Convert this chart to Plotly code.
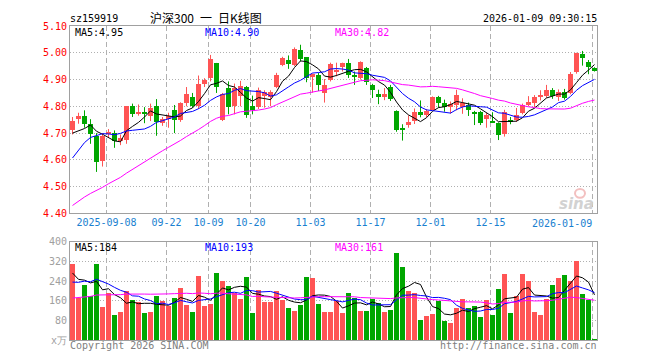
import pandas as pd
import plotly.graph_objects as go

# ---------------- data ----------------
open_ = [4.710, 4.753, 4.765, 4.735, 4.690, 4.595, 4.697, 4.700, 4.670, 4.675,
         4.800, 4.773, 4.780, 4.765, 4.800, 4.737, 4.753, 4.785, 4.750, 4.814,
         4.835, 4.803, 4.883, 4.905, 4.960, 4.750, 4.870, 4.800, 4.838, 4.872,
         4.800, 4.797, 4.838, 4.835, 4.872, 4.955, 4.973, 4.956, 5.012, 4.983,
         4.908, 4.917, 4.848, 4.897, 4.927, 4.946, 4.963, 4.915, 4.906, 4.942,
         4.881, 4.846, 4.833, 4.873, 4.782, 4.717, 4.731, 4.744, 4.778, 4.768,
         4.788, 4.834, 4.811, 4.800, 4.805, 4.797, 4.806, 4.780, 4.780, 4.753,
         4.745, 4.737, 4.695, 4.750, 4.750, 4.775, 4.808, 4.813, 4.836, 4.840,
         4.861, 4.833, 4.855, 4.850, 4.928, 4.997, 4.966, 4.942]
high = [4.760, 4.776, 4.785, 4.752, 4.700, 4.700, 4.715, 4.710, 4.695, 4.800,
        4.810, 4.807, 4.797, 4.810, 4.827, 4.760, 4.776, 4.805, 4.815, 4.872,
        4.850, 4.915, 4.905, 4.992, 4.962, 4.850, 4.893, 4.885, 4.895, 4.876,
        4.840, 4.870, 4.860, 4.860, 4.925, 4.985, 4.990, 5.020, 5.030, 4.983,
        4.922, 4.925, 4.902, 4.963, 4.963, 4.963, 4.977, 4.930, 4.968, 4.947,
        4.884, 4.862, 4.868, 4.880, 4.785, 4.733, 4.766, 4.792, 4.822, 4.790,
        4.837, 4.839, 4.825, 4.818, 4.862, 4.830, 4.814, 4.783, 4.783, 4.775,
        4.778, 4.740, 4.787, 4.760, 4.794, 4.810, 4.838, 4.842, 4.860, 4.880,
        4.868, 4.863, 4.865, 4.928, 5.000, 5.007, 4.973, 4.946]
low = [4.695, 4.735, 4.720, 4.660, 4.555, 4.575, 4.685, 4.645, 4.655, 4.660,
       4.760, 4.765, 4.737, 4.745, 4.690, 4.727, 4.720, 4.700, 4.742, 4.800,
       4.795, 4.790, 4.872, 4.893, 4.850, 4.745, 4.770, 4.770, 4.800, 4.757,
       4.770, 4.790, 4.795, 4.800, 4.868, 4.950, 4.940, 4.950, 4.968, 4.890,
       4.851, 4.857, 4.814, 4.893, 4.912, 4.930, 4.906, 4.880, 4.900, 4.880,
       4.831, 4.808, 4.823, 4.820, 4.705, 4.672, 4.720, 4.734, 4.759, 4.760,
       4.785, 4.795, 4.780, 4.773, 4.785, 4.772, 4.764, 4.730, 4.730, 4.720,
       4.738, 4.674, 4.687, 4.733, 4.742, 4.770, 4.800, 4.797, 4.822, 4.832,
       4.828, 4.820, 4.825, 4.845, 4.922, 4.952, 4.920, 4.930]
close = [4.745, 4.765, 4.735, 4.697, 4.592, 4.690, 4.705, 4.670, 4.680, 4.800,
         4.770, 4.780, 4.770, 4.795, 4.742, 4.752, 4.763, 4.750, 4.812, 4.845,
         4.800, 4.882, 4.898, 4.977, 4.872, 4.845, 4.797, 4.870, 4.876, 4.768,
         4.786, 4.862, 4.853, 4.855, 4.918, 4.980, 4.957, 5.015, 4.978, 4.905,
         4.920, 4.881, 4.881, 4.958, 4.936, 4.961, 4.918, 4.911, 4.964, 4.890,
         4.861, 4.836, 4.846, 4.826, 4.712, 4.713, 4.743, 4.779, 4.768, 4.784,
         4.833, 4.812, 4.796, 4.807, 4.843, 4.812, 4.786, 4.773, 4.739, 4.768,
         4.741, 4.692, 4.778, 4.743, 4.768, 4.805, 4.815, 4.833, 4.841, 4.862,
         4.840, 4.853, 4.832, 4.920, 4.998, 4.979, 4.948, 4.935]
volume = [309, 171, 224, 180, 312, 136, 193, 104, 116, 200,
          164, 156, 112, 116, 180, 160, 140, 173, 213, 144,
          116, 260, 140, 148, 273, 240, 220, 193, 169, 256,
          112, 203, 157, 157, 200, 164, 132, 120, 143, 256,
          252, 147, 116, 116, 160, 112, 192, 173, 120, 120,
          169, 153, 116, 124, 356, 300, 200, 192, 84, 100,
          105, 160, 80, 68, 132, 168, 132, 140, 96, 164,
          104, 208, 268, 112, 180, 268, 240, 116, 104, 169,
          224, 252, 264, 240, 324, 188, 164, 4]

# closes / volumes of the 29 sessions before the first visible bar,
# estimated from where the MA lines start on the left edge
prior_close = [4.27, 4.28, 4.30, 4.29, 4.31, 4.30, 4.32, 4.31, 4.33, 4.34,
               4.33, 4.35, 4.36, 4.35, 4.37, 4.38, 4.39, 4.40, 4.41, 4.43,
               4.47, 4.455, 4.505, 4.52, 4.62, 4.715, 4.70, 4.63, 4.71]
prior_volume = [120, 130, 125, 140, 135, 128, 118, 122, 130, 145,
                150, 138, 132, 140, 148, 155, 142, 150, 160, 162,
                180, 175, 205, 210, 225, 300, 240, 236, 280]

tick_index = [6, 16, 23, 30, 40, 50, 60, 70, 87]
tick_labels = ["2025-09-08", "09-22", "10-09", "10-20", "11-03",
               "11-17", "12-01", "12-15", "2026-01-09"]
price_ticks = [4.40, 4.50, 4.60, 4.70, 4.80, 4.90, 5.00, 5.10]
vol_ticks = [0, 80, 160, 240, 320, 400]
vol_tick_text = ["x万", "80", "160", "240", "320", "400"]

title_code = "sz159919"
title_text = "沪深300\u2002一\u2002日K线图"
stamp = "2026-01-09 09:30:15"
price_ma_labels = ["MA5:4.95", "MA10:4.90", "MA30:4.82"]
vol_ma_labels = ["MA5:184", "MA10:193", "MA30:161"]

# ---------------- layout helpers ----------------
# the page puts the figure 8px in from the window edge, so the figure is
# 652x352 and every screen position p lands at p-8 inside it
OFF = 8
W, H = 660 - OFF, 360 - OFF
ML, MR, MT, MB = 70 - OFF, 63, 20 - OFF, 20
PW, PH = W - ML - MR, H - MT - MB   # 527 x 320


def fx(p):      # screen x pixel -> paper
    return (p - 70) / PW


def fy(p):      # screen y pixel -> paper
    return (340 - p) / PH


MONO = "DejaVu Sans Mono"
CJK = "Noto Sans CJK SC"
RED = "#ff5454"
GREEN = "#00a600"
MA_COLORS = ["#000000", "#0000ff", "#ff00ff"]
GRID = "#b0b0b0"
FRAME = "#a0a0a0"

N = len(close)
xs = list(range(N))
up = [c >= o for o, c in zip(open_, close)]
colors = [RED if u else GREEN for u in up]


def ma(arr, n):
    return pd.Series(arr, dtype=float).rolling(n).mean().tolist()[-N:]


all_close = prior_close + close
all_vol = prior_volume + volume

fig = go.Figure()

# wicks
for flag, col in [(True, RED), (False, GREEN)]:
    wx, wy = [], []
    for i in range(N):
        if up[i] == flag:
            wx += [i, i, None]
            wy += [low[i], high[i], None]
    fig.add_trace(go.Scatter(x=wx, y=wy, mode="lines", line=dict(color=col, width=1),
                             hoverinfo="skip", xaxis="x", yaxis="y"))

# bodies
min_h = 0.7 / 191
body_base = [min(o, c) for o, c in zip(open_, close)]
body_h = [max(abs(c - o), min_h) for o, c in zip(open_, close)]
fig.add_trace(go.Bar(x=xs, y=body_h, base=body_base, width=5 / 6,
                     marker=dict(color=colors, line=dict(width=0)),
                     xaxis="x", yaxis="y"))

# price MAs
for n, col in zip([5, 10, 30], MA_COLORS):
    fig.add_trace(go.Scatter(x=xs, y=ma(all_close, n), mode="lines",
                             line=dict(color=col, width=1), xaxis="x", yaxis="y"))

# volume bars
fig.add_trace(go.Bar(x=xs, y=volume, width=5 / 6,
                     marker=dict(color=colors, line=dict(width=0)),
                     xaxis="x2", yaxis="y2"))
for n, col in zip([5, 10, 30], MA_COLORS):
    fig.add_trace(go.Scatter(x=xs, y=ma(all_vol, n), mode="lines",
                             line=dict(color=col, width=1), xaxis="x2", yaxis="y2"))

grid_x = [i - 1 / 3 for i in tick_index]
xr = [-5 / 12, N - 1 + 5 / 12]
xcommon = dict(range=xr, tickvals=grid_x, showgrid=True, gridcolor=GRID,
               griddash="5px,3px", gridwidth=1, showline=True, mirror=True,
               linecolor=FRAME, linewidth=1, zeroline=False, ticks="",
               fixedrange=True)

fig.update_layout(
    width=W, height=H,
    margin=dict(l=ML, r=MR, t=MT, b=MB, pad=0),
    paper_bgcolor="white", plot_bgcolor="white",
    showlegend=False, barmode="overlay", bargap=0,
    xaxis=dict(anchor="y", domain=[0, 1],
               ticktext=tick_labels[:-1] + [""],
               tickfont=dict(family=MONO, size=10, color="#1a7fd0"), **xcommon),
    xaxis2=dict(anchor="y2", domain=[0, 1], showticklabels=False, **xcommon),
    yaxis=dict(domain=[fy(211), 1], range=[4.40, 5.10], tickvals=price_ticks,
               ticktext=["%.2f" % v for v in price_ticks],
               tickfont=dict(family=MONO, size=10, color="#ff0000"),
               showgrid=True, gridcolor=GRID, griddash="1px,2px", gridwidth=1,
               showline=True, mirror=True, linecolor=FRAME, linewidth=1,
               zeroline=False, ticks="", fixedrange=True),
    yaxis2=dict(domain=[0, fy(240)], range=[0, 400], tickvals=vol_ticks,
                ticktext=vol_tick_text,
                tickfont=dict(family=MONO, size=10, color="#a0a0a0"),
                showgrid=True, gridcolor=GRID, griddash="1px,2px", gridwidth=1,
                showline=True, mirror=True, linecolor=FRAME, linewidth=1,
                zeroline=False, ticks="", fixedrange=True),
)

ann = []


def text(s, x, y, anchor="left", color="#000000", size=10, family=MONO, **kw):
    ann.append(dict(text=s, x=fx(x), y=fy(y), xref="paper", yref="paper",
                    xanchor=anchor, yanchor="middle", showarrow=False,
                    font=dict(family=family, size=size, color=color),
                    borderpad=0, **kw))


text(title_code, 69, 12)
text(title_text, 149, 11, size=12, family=CJK)
text(stamp, 598, 12, anchor="right")
for lab, xx, col in zip(price_ma_labels, [74, 204, 334], MA_COLORS):
    text(lab, xx, 26.5, color=col)
for lab, xx, col in zip(vol_ma_labels, [74, 204, 334], MA_COLORS):
    text(lab, xx, 246, color=col)
text(tick_labels[-1], 593, 221, anchor="right", color="#1a7fd0")
text("Copyright 2026 SINA.COM", 69, 346, color="#808080")
text("http://finance.sina.com.cn", 598, 346, anchor="right", color="#808080")
ann.append(dict(text="<b><i>sina</i></b>", x=fx(596), y=fy(201), xref="paper",
                yref="paper", xanchor="right", yanchor="middle", showarrow=False,
                font=dict(family="DejaVu Sans", size=15, color="#d2d2d2")))
fig.update_layout(annotations=ann)
fig.add_shape(type="circle", xref="paper", yref="paper",
              x0=fx(575), x1=fx(585), y0=fy(195), y1=fy(186),
              line=dict(color="#f3c0c0", width=2))

fig.write_html("out.html")
